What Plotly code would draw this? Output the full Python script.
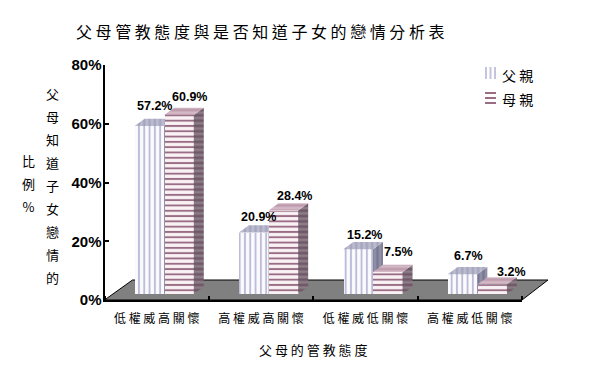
import plotly.graph_objects as go

categories = ["低 權 威 高 關 懷", "高 權 威 高 關 懷", "低 權 威 低 關 懷", "高 權 威 低 關 懷"]
father = [57.2, 20.9, 15.2, 6.7]
mother = [60.9, 28.4, 7.5, 3.2]
y_ticks = [0, 20, 40, 60, 80]
father_label_shift = [(5, 20), (5, 16), (6, 14), (6, 18)]
mother_label_shift = [(11, 18), (11, 15), (11, 20), (19, 13)]

W, H = 600, 375
AX_L, AX_R, AX_T, AX_B = 104.5, 522.0, 65.0, 300.0
PX_X = (AX_R - AX_L) / 4
PX_Y = (AX_B - AX_T) / 80
BAR_W = 29.6 / PX_X
BASE = 6 / PX_Y
DX = 10 / PX_X
DY = 7.3 / PX_Y
SHIFT = 7.5 / PX_X


def px(x):
    return x / W


def py(y):
    return 1 - y / H


def side_face(x_right, top):
    return ([x_right, x_right + DX, x_right + DX, x_right, x_right],
            [BASE, BASE + DY, top + DY, top, BASE])


def top_face(x_left, x_right, top):
    return ([x_left, x_right, x_right + DX, x_left + DX, x_left],
            [top, top, top + DY, top + DY, top])


def add_series(fig, name, values, centers, shape, front, side, top, xa, ya):
    fig.add_trace(go.Bar(
        x=centers, y=values, base=BASE, width=BAR_W, name=name, xaxis=xa, yaxis=ya,
        marker=dict(color=front["bg"], line=dict(width=0),
                    pattern=dict(shape=shape, fgcolor=front["fg"], bgcolor=front["bg"],
                                 size=5.3, solidity=0.36, fillmode="replace")),
    ))
    for c, v in zip(centers, values):
        t = v + BASE
        sx, sy = side_face(c + BAR_W / 2, t)
        fig.add_trace(go.Scatter(
            x=sx, y=sy, mode="lines", line=dict(width=0), fill="toself", xaxis=xa, yaxis=ya,
            fillcolor=side["bg"], showlegend=False, hoverinfo="skip",
            fillpattern=dict(shape=shape, fgcolor=side["fg"], bgcolor=side["bg"], size=5.3, solidity=0.5),
        ))
        tx, ty = top_face(c - BAR_W / 2, c + BAR_W / 2, t)
        fig.add_trace(go.Scatter(
            x=tx, y=ty, mode="lines", line=dict(width=0), fill="toself", xaxis=xa, yaxis=ya,
            fillcolor=top["bg"], showlegend=False, hoverinfo="skip",
            fillpattern=dict(shape=shape, fgcolor=top["fg"], bgcolor=top["bg"], size=5.3, solidity=0.5),
        ))


fig = go.Figure()
idx = list(range(len(categories)))
add_series(fig, "父 親", father, [i - BAR_W / 2 + SHIFT for i in idx], "|",
           dict(fg="#bcbcd9", bg="#fbfbfe"), dict(fg="#62627f", bg="#8f8fa6"),
           dict(fg="#8f8fb2", bg="#bcbccf"), "x", "y")
add_series(fig, "母 親", mother, [i + BAR_W / 2 + SHIFT for i in idx], "-",
           dict(fg="#9a6d85", bg="#faf3f6"), dict(fg="#4f3545", bg="#8d7c88"),
           dict(fg="#a67f95", bg="#d4b8c6"), "x2", "y2")

annotations = []
for i, (v, (sx, sy)) in enumerate(zip(father, father_label_shift)):
    annotations.append(dict(x=i - BAR_W / 2 + SHIFT, y=v + BASE, xref="x", yref="y", text=f"<b>{v}%</b>",
                            xshift=sx, yshift=sy, showarrow=False,
                            font=dict(family="Liberation Sans", size=12.5, color="#000")))
for i, (v, (sx, sy)) in enumerate(zip(mother, mother_label_shift)):
    annotations.append(dict(x=i + BAR_W / 2 + SHIFT, y=v + BASE, xref="x", yref="y", text=f"<b>{v}%</b>",
                            xshift=sx, yshift=sy, showarrow=False,
                            font=dict(family="Liberation Sans", size=12.5, color="#000")))

CJK = "Noto Sans CJK TC"


def text_at(text, x, y, size, color="#000"):
    annotations.append(dict(x=px(x), y=py(y), xref="paper", yref="paper", text=text, showarrow=False,
                            xanchor="center", yanchor="middle",
                            font=dict(family=CJK, size=size, color=color)))


def vertical(chars, size):
    return "<br>".join(f"<span style='font-size:{size}px'>{c}</span>" for c in chars)


text_at("父 母 管 教 態 度 與 是 否 知 道 子 女 的 戀 情 分 析 表", 260, 31.5, 16)
text_at("父 母 的 管 教 態 度", 313, 349, 13)
text_at(vertical("父母知道子女戀情的", 13), 52, 185, 17.7)
text_at(vertical("比例%", 13), 28, 184, 17.7)
text_at("父 親", 517, 74.5, 14)
text_at("母 親", 517, 99.5, 14)

floor = (f"M{px(AX_L)},{py(AX_B)} L{px(132.5)},{py(280)} L{px(548)},{py(280)} "
         f"L{px(AX_R)},{py(AX_B)} Z")

shapes = [dict(type="path", path=floor, xref="paper", yref="paper", layer="below",
               fillcolor="#808080", line=dict(color="#000", width=1))]
for x in (486, 490.5, 495):
    shapes.append(dict(type="line", xref="paper", yref="paper", x0=px(x), x1=px(x), y0=py(67), y1=py(79),
                       line=dict(color="#c4c4de", width=2)))
for y in (93, 98, 103):
    shapes.append(dict(type="line", xref="paper", yref="paper", x0=px(485), x1=px(496), y0=py(y), y1=py(y),
                       line=dict(color="#9a6d85", width=2)))

fig.update_layout(
    width=W, height=H, margin=dict(l=0, r=0, t=0, b=0, autoexpand=False), autosize=False,
    paper_bgcolor="white", plot_bgcolor="rgba(0,0,0,0)",
    barmode="overlay", bargap=0,
    annotations=annotations,
    shapes=shapes,
    showlegend=False,
    xaxis=dict(domain=[px(AX_L), px(AX_R)], range=[-0.5, 3.5], showgrid=False, zeroline=False,
               showline=True, linecolor="#000", linewidth=2, ticks="",
               tickmode="array", tickvals=idx, ticktext=categories, ticklabelstandoff=7,
               tickfont=dict(family=CJK, size=12, color="#000"),
               minor=dict(tickmode="array", tickvals=[i - 0.5 for i in range(5)], ticks="inside",
                          ticklen=4, tickwidth=2, tickcolor="#000", showgrid=False)),
    yaxis=dict(domain=[py(AX_B), py(AX_T)], range=[0, 80], showgrid=False, zeroline=False,
               showline=True, linecolor="#000", linewidth=2, ticks="inside", ticklen=4, tickwidth=2,
               tickcolor="#000", tickmode="array", tickvals=y_ticks, ticklabelstandoff=-2,
               ticktext=[f"<b>{t}%</b>" for t in y_ticks],
               tickfont=dict(family="Liberation Sans", size=15, color="#000")),
    xaxis2=dict(overlaying="x", matches="x", visible=False),
    yaxis2=dict(overlaying="y", matches="y", visible=False),
)

fig.write_html("out.html", config=dict(displayModeBar=False),
               post_script="document.body.style.margin='0';document.body.style.overflow='hidden';")
